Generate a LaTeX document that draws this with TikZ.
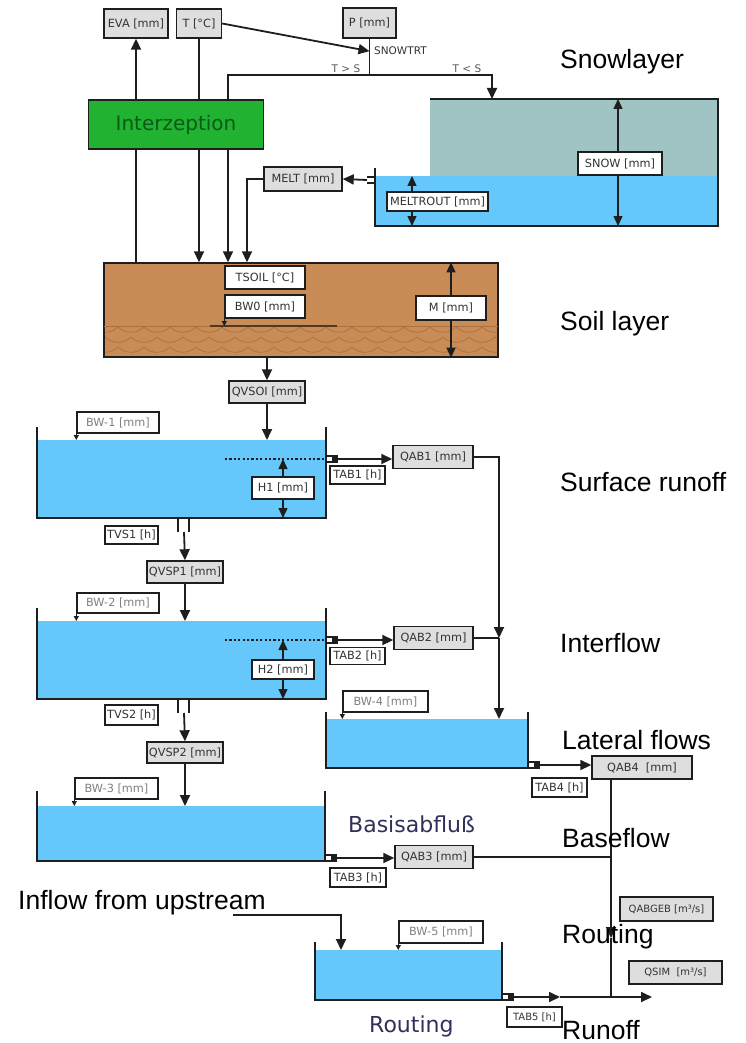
\documentclass[tikz,border=0pt]{standalone}
\usepackage{fontspec}
\newfontfamily\boxfont{DejaVu Sans}
\newfontfamily\headfont{Liberation Sans}
\usetikzlibrary{arrows.meta}
\pgfdeclarelayer{bg}
\pgfdeclarelayer{lines}
\pgfsetlayers{bg,lines,main}

\definecolor{water}{RGB}{102,200,250}
\definecolor{snowc}{RGB}{160,196,196}
\definecolor{soilc}{RGB}{201,140,86}
\definecolor{soilwave}{RGB}{172,112,62}
\definecolor{interc}{RGB}{32,178,48}
\definecolor{intertext}{RGB}{12,90,24}
\definecolor{boxgrey}{RGB}{222,222,222}
\definecolor{navy}{RGB}{48,48,90}
\definecolor{linec}{RGB}{30,30,30}

\begin{document}
\begin{tikzpicture}[x=1pt, y=-1pt,
    sz/.style 2 args={minimum width=#1pt, minimum height=#2pt},
    val/.style={draw=linec, line width=1.4pt, fill=boxgrey, text=black!80, inner sep=0pt, font=\boxfont\fontsize{11.3}{13}\selectfont},
    par/.style={val, fill=white},
    lev/.style={par, text=black!50},
    smallbox/.style={font=\boxfont\fontsize{10}{12}\selectfont},
    note/.style={inner sep=0pt, text=black!80, font=\boxfont\fontsize{10.5}{12}\selectfont},
    zone/.style={anchor=base west, inner sep=0pt, font=\headfont\fontsize{26.5}{30}\selectfont},
    dename/.style={anchor=base west, inner sep=0pt, text=navy, font=\boxfont\fontsize{22}{26}\selectfont},
    flow/.style={draw=linec, line width=1.8pt, -{Triangle[length=11pt,width=10pt]}},
    pipe/.style={draw=linec, line width=1.8pt},
    gauge/.style={draw=linec, line width=1.4pt, {Triangle[length=10pt,width=9pt]}-{Triangle[length=10pt,width=9pt]}},
    bwmark/.style={draw=linec, line width=0.8pt, -{Triangle[length=5pt,width=5pt]}},
    wall/.style={draw=linec, line width=2.3pt}
  ]
  \useasboundingbox (0,0) rectangle (745,1043);

  % inputs and snow routine
  \node[val, sz={64}{29}] (eva) at (136,23.5) {EVA [mm]};
  \node[val, sz={45}{29}] (temp) at (199,23.5) {T [°C]};
  \node[val, sz={53}{30}] (prec) at (369.5,23) {P [mm]};
  \node[note, anchor=base west] (trt) at (374,55) {SNOWTRT};
  \node[note, anchor=base, text=black!65] (tgt) at (346,73) {T > S};
  \node[note, anchor=base, text=black!65] (tlt) at (467,73) {T < S};
  \node[draw=linec, line width=1.4pt, fill=interc, text=intertext, sz={175}{49}, font=\boxfont\fontsize{20}{24}\selectfont] (interz) at (176,124.5) {Interzeption};
  \node[val, sz={78}{24}] (melt) at (303,179) {MELT [mm]};
  \node[par, sz={84}{23}] (snowmm) at (620,163.5) {SNOW [mm]};
  \node[par, sz={101}{19}] (meltrout) at (437.5,201.5) {MELTROUT [mm]};

  % soil
  \node[par, sz={80}{23}] (tsoil) at (265,277.5) {TSOIL [°C]};
  \node[par, sz={80}{23}] (bw0) at (265,306.5) {BW0 [mm]};
  \node[par, sz={70}{24}] (msoil) at (451,308) {M [mm]};
  \node[val, sz={76}{22}] (qvsoi) at (267,392) {QVSOI [mm]};

  % storages
  \node[lev, sz={82}{21}] (bw1) at (118,422.5) {BW-1 [mm]};
  \node[val, sz={80}{23}] (qab1) at (433,457) {QAB1 [mm]};
  \node[par, sz={55}{18}] (tab1) at (357.5,475) {TAB1 [h]};
  \node[par, sz={62}{22}] (h1) at (283,488) {H1 [mm]};
  \node[par, sz={53}{18}] (tvs1) at (131.5,535) {TVS1 [h]};
  \node[val, sz={76}{22}] (qvsp1) at (185,572) {QVSP1 [mm]};
  \node[lev, sz={82}{20}] (bw2) at (118,603) {BW-2 [mm]};
  \node[val, sz={79}{23}] (qab2) at (433.5,638) {QAB2 [mm]};
  \node[par, sz={55}{17}] (tab2) at (357.5,656) {TAB2 [h]};
  \node[par, sz={62}{19}] (h2) at (283,669.5) {H2 [mm]};
  \node[par, sz={53}{20}] (tvs2) at (131.5,715) {TVS2 [h]};
  \node[val, sz={76}{21}] (qvsp2) at (185,752.5) {QVSP2 [mm]};
  \node[lev, sz={85}{21}] (bw4) at (385.5,701.5) {BW-4 [mm]};
  \node[val, sz={100}{23}] (qab4) at (642,767.5) {QAB4\ \ [mm]};
  \node[par, sz={55}{19}] (tab4) at (559.5,787.5) {TAB4 [h]};
  \node[lev, sz={83}{21}] (bw3) at (116.5,788.5) {BW-3 [mm]};
  \node[val, sz={78}{23}] (qab3) at (434,857) {QAB3 [mm]};
  \node[par, sz={56}{19}] (tab3) at (358,877.5) {TAB3 [h]};
  \node[lev, sz={84}{22}] (bw5) at (441,932) {BW-5 [mm]};
  \node[par, smallbox, sz={55}{20}] (tab5) at (534.5,1017) {TAB5 [h]};
  \node[val, smallbox, sz={93}{24}] (qabgeb) at (666.5,909) {QABGEB [m³/s]};
  \node[val, smallbox, sz={93}{23}] (qsim) at (675.5,972.5) {QSIM\ \ [m³/s]};

  % labels
  \node[zone] (zsnow) at (560,69) {Snowlayer};
  \node[zone] (zsoil) at (560,330) {Soil layer};
  \node[zone] (zsurf) at (560,491) {Surface runoff};
  \node[zone] (zinter) at (560,652) {Interflow};
  \node[zone] (zlat) at (562,749) {Lateral flows};
  \node[zone] (zbase) at (562,847) {Baseflow};
  \node[zone] (zrout) at (562,943) {Routing};
  \node[zone] (zrun) at (562,1039) {Runoff};
  \node[zone] (upstream) at (18,909) {Inflow from upstream};
  \node[dename] (basis) at (348,832) {Basisabfluß};
  \node[dename] (routing) at (369,1032) {Routing};

  \begin{pgfonlayer}{bg}
    \fill[snowc] (430,99) rectangle (718,176);
    \fill[water] (375,176) rectangle (718,226);
    \foreach \xa/\xb/\yw/\yb in {37/326/440/518, 37/326/621/699, 37/325/806/861, 326/528/719/768, 315/502/950/1000}
      \fill[water] (\xa,\yw) rectangle (\xb,\yb);
    \node[draw=linec, line width=1.4pt, fill=soilc, sz={394}{94}, inner sep=0pt] (soil) at (301,310) {};
    \begin{scope}
      \clip (105,326) rectangle (497,356);
      \foreach \y/\s in {327/0, 337/13, 347/0}
        \foreach \x in {0,26,...,416}
          \draw[soilwave, line width=0.7pt] ({92+\s+\x},\y) .. controls ({99+\s+\x},{\y+7}) and ({111+\s+\x},{\y+7}) .. ({118+\s+\x},\y);
    \end{scope}
    \draw[soilwave, line width=0.7pt] (104,326) -- (498,326);
    \draw[black!60!soilc, line width=1.6pt] (210,326) -- (337,326);
  \end{pgfonlayer}

  \begin{pgfonlayer}{lines}
    % tank walls
    \draw[wall] (375,168) -- (375,226) -- (718,226) -- (718,99) -- (430,99);
    \draw[pipe] (367,177) -- (375,177) (367,183) -- (375,183);
    \foreach \xa/\xb/\yt/\yb in {37/326/427/518, 37/326/608/699, 37/325/791/861, 326/528/712/768, 315/502/942/1000}
      \draw[wall] (\xa,\yt) -- (\xa,\yb) -- (\xb,\yb) -- (\xb,\yt);
    % outlets
    \foreach \x/\y/\n in {326/459/1, 326/640/2, 325/858/3, 528/765/4, 502/997/5} {
      \draw[line width=1.2pt, draw=linec, fill=white] (\x,{\y-3}) rectangle ({\x+11},{\y+3});
      \fill[linec] ({\x+6},{\y-3}) rectangle ({\x+11},{\y+3});
      \coordinate (out\n) at ({\x+11},\y);
    }
    \foreach \y/\n in {518/1, 699/2} {
      \draw[pipe] (178,\y) -- (178,{\y+14}) (189,\y) -- (189,{\y+14});
      \coordinate (drain\n) at (184,{\y+14});
    }
    \draw[linec, line width=2.2pt, dash pattern=on 2.2pt off 2.2pt] (225,459) -- (326,459);
    \draw[linec, line width=2.2pt, dash pattern=on 2.2pt off 2.2pt] (225,640) -- (326,640);

    % gauges
    \draw[gauge] (618,99) -- (618,226);
    \draw[gauge] (412,176) -- (412,226);
    \draw[gauge] (msoil |- soil.north) -- (msoil |- soil.south);
    \draw[gauge] (h1 |- out1) -- (h1 |- 0,518);
    \draw[gauge] (h2 |- out2) -- (h2 |- 0,699);
    \foreach \b/\w in {bw1/440, bw2/621, bw3/806, bw4/719, bw5/950}
      \draw[bwmark] (\b.south west) -- (\b.south west |- 0,\w);
    \draw[bwmark] (bw0.south west) -- (bw0.south west |- 0,326);

    % flows
    \coordinate (trtpt) at (prec.south |- trt.west);
    \coordinate (split) at (prec.south |- 0,75);
    \coordinate (rain) at (228,75);
    \coordinate (snowin) at (492,99);
    \coordinate (snowout) at (367,180);
    \draw[flow] (temp.east) -- (trtpt);
    \draw[pipe] (prec.south) -- (split);
    \draw[flow] (split) -- (rain) -- (rain |- soil.north);
    \draw[flow] (split) -| (snowin);
    \draw[flow] (eva |- soil.north) -- (eva.south);
    \draw[flow] (temp.south) -- (temp |- soil.north);
    \draw[flow] (snowout) -- (melt.east);
    \draw[flow] (melt.west) -| (soil.north -| 247,0);
    \draw[flow] (soil.south -| qvsoi) -- (qvsoi.north);
    \draw[flow] (qvsoi.south) -- (qvsoi |- 0,440);
    \draw[flow] (out1) -- (out1 -| qab1.west);
    \coordinate (lat) at (qab2.east -| 499,0);
    \draw[flow] (qab1.east) -| (lat);
    \draw[pipe] (qab2.east) -- (lat);
    \draw[flow] (lat) -- (lat |- 0,719);
    \draw[flow] (drain1) -- (qvsp1.north);
    \draw[flow] (qvsp1.south) -- (qvsp1 |- 0,621);
    \draw[flow] (out2) -- (out2 -| qab2.west);
    \draw[flow] (drain2) -- (qvsp2.north);
    \draw[flow] (qvsp2.south) -- (qvsp2 |- 0,806);
    \draw[flow] (out3) -- (out3 -| qab3.west);
    \draw[flow] (out4) -- (out4 -| qab4.west);
    \coordinate (gaugept) at (611,938);
    \coordinate (runj) at (611,997);
    \coordinate (mid5) at (560,997);
    \coordinate (qend) at (652,997);
    \coordinate (upin) at (233,915);
    \coordinate (inflow) at (341,950);
    \draw[flow] (qab4.south -| gaugept) -- (gaugept);
    \draw[pipe] (gaugept) -- (runj);
    \draw[pipe] (qab3.east) -- (qab3.east -| gaugept);
    \draw[flow] (upin) -| (inflow);
    \draw[flow] (out5) -- (mid5);
    \draw[flow] (mid5) -- (qend);
  \end{pgfonlayer}
\end{tikzpicture}
\end{document}
